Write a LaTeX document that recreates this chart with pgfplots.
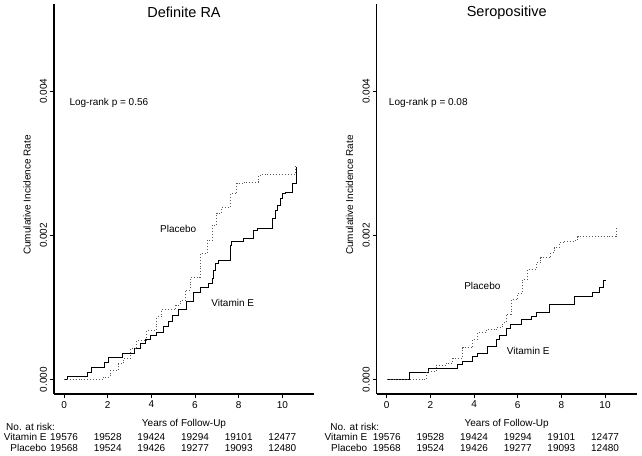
\documentclass[border=0pt]{standalone}
\usepackage{fontspec}
\setmainfont{Liberation Sans}
\usepackage{pgfplots}
\pgfplotsset{compat=1.18}

\pgfplotsset{
  km/.style={
    scale only axis, width=260pt, height=390pt,
    xmin=-0.46, xmax=11.45, ymin=-0.0002, ymax=0.00521,
    axis lines=left, axis line style={-, line width=1.1pt, black},
    tick align=outside, major tick length=3.5pt,
    tick style={black, line width=0.8pt},
    xtick={0,2,4,6,8,10}, ytick={0,0.002,0.004},
    scaled y ticks=false,
    /pgf/number format/assume math mode=true,
    tick label style={font=\fontsize{10}{12}\selectfont},
    yticklabel style={/pgf/number format/.cd, fixed, fixed zerofill, precision=3, /tikz/.cd, rotate=90, anchor=south},
    label style={font=\fontsize{10}{12}\selectfont},
    ylabel={Cumulative Incidence Rate},
    ylabel style={at={(axis description cs:-0.104,0.51)}, anchor=center},
    xlabel={Years of Follow-Up},
    xlabel style={at={(axis description cs:0.5,0)}, anchor=center, yshift=-29.5pt},
    title style={font=\fontsize{14.5}{17}\selectfont, at={(axis description cs:0.5,1)}, anchor=center, yshift=-14.5pt},
    clip=false,
    every node/.append style={font=\fontsize{10}{12}\selectfont},
  },
  vite/.style={const plot, black, line width=1pt},
  plac/.style={const plot, black!65, line width=0.9pt, dotted},
}

\begin{document}
\begin{tikzpicture}
\path[use as bounding box] (0,0) rectangle (642pt,455pt);

% ---------- Definite RA ----------
\begin{axis}[km, at={(54pt,61pt)}, anchor=south west, title={Definite RA}]
\addplot[vite] coordinates {
(0,0) (0.18,0.00004) (1.07,0.00010) (1.28,0.00017) (1.85,0.00024) (2.02,0.00030)
(2.69,0.00036) (3.21,0.00043) (3.49,0.00050) (3.72,0.00056) (3.94,0.00061)
(4.22,0.00066) (4.54,0.00073) (4.77,0.00081) (4.95,0.00089) (5.23,0.00097)
(5.60,0.00109) (5.92,0.00121) (6.24,0.00128) (6.61,0.00133) (6.78,0.00140)
(6.83,0.00151) (6.93,0.00161) (7.06,0.00165) (7.61,0.00186) (7.69,0.00191)
(8.21,0.00196) (8.67,0.00207) (8.84,0.00210) (9.53,0.00224) (9.68,0.00235)
(9.76,0.00242) (9.91,0.00251) (9.99,0.00258) (10.14,0.00260) (10.45,0.00272)
(10.67,0.00295)
};
\addplot[plac] coordinates {
(0,0) (1.80,0.00003) (2.11,0.00012) (2.48,0.00022) (2.71,0.00029) (3.03,0.00043)
(3.33,0.00054) (3.79,0.00068) (4.25,0.00087) (4.48,0.00097) (5.12,0.00103)
(5.32,0.00110) (5.55,0.00124) (5.78,0.00142) (6.24,0.00175) (6.55,0.00193)
(6.78,0.00214) (7.00,0.00231) (7.23,0.00239) (7.61,0.00258) (7.92,0.00272)
(8.21,0.00274) (8.90,0.00283) (9.07,0.00285) (10.60,0.00297)
};
\node[anchor=west] at (axis cs:0.09,0.003835) {Log-rank p = 0.56};
\node at (axis cs:5.23,0.002087) {Placebo};
\node at (axis cs:7.73,0.001061) {Vitamin E};
\node[anchor=west] at (axis cs:-2.81,-0.000655) {No. at risk:};
\node[anchor=east] at (axis cs:-0.64,-0.000802) {Vitamin E};
\node[anchor=east] at (axis cs:-0.64,-0.000946) {Placebo};
\node at (axis cs:0,-0.000802) {19576};
\node at (axis cs:2,-0.000802) {19528};
\node at (axis cs:4,-0.000802) {19424};
\node at (axis cs:6,-0.000802) {19294};
\node at (axis cs:8,-0.000802) {19101};
\node at (axis cs:10,-0.000802) {12477};
\node at (axis cs:0,-0.000946) {19568};
\node at (axis cs:2,-0.000946) {19524};
\node at (axis cs:4,-0.000946) {19426};
\node at (axis cs:6,-0.000946) {19277};
\node at (axis cs:8,-0.000946) {19093};
\node at (axis cs:10,-0.000946) {12480};
\end{axis}

% ---------- Seropositive ----------
\begin{axis}[km, at={(376.7pt,61pt)}, anchor=south west, title={Seropositive}]
\addplot[vite] coordinates {
(0,0) (1.05,0.00010) (1.89,0.00016) (3.26,0.00021) (3.48,0.00025) (3.94,0.00032)
(4.17,0.00036) (4.63,0.00046) (5.01,0.00055) (5.16,0.00061) (5.47,0.00071)
(5.69,0.00077) (6.15,0.00083) (6.61,0.00088) (6.84,0.00093) (7.44,0.00104)
(8.58,0.00115) (9.42,0.00121) (9.73,0.00128) (9.95,0.00137) (10.03,0.00137)
};
\addplot[plac] coordinates {
(0,0) (1.81,0.000115) (2.27,0.00020) (2.73,0.00023) (3.03,0.00030) (3.48,0.00044)
(3.94,0.00056) (4.17,0.00065) (4.55,0.00069) (5.01,0.00072) (5.31,0.00079)
(5.47,0.00090) (5.69,0.00111) (6.00,0.00120) (6.22,0.00139) (6.45,0.00153)
(6.84,0.00162) (7.06,0.00169) (7.52,0.00176) (7.67,0.00183) (7.90,0.00190)
(8.13,0.00192) (8.66,0.00195) (8.74,0.00198) (10.49,0.00198) (10.52,0.00210)
};
\node[anchor=west] at (axis cs:-0.06,0.003835) {Log-rank p = 0.08};
\node at (axis cs:4.38,0.001297) {Placebo};
\node at (axis cs:6.48,0.000399) {Vitamin E};
\node[anchor=west] at (axis cs:-2.74,-0.000655) {No. at risk:};
\node[anchor=east] at (axis cs:-0.73,-0.000802) {Vitamin E};
\node[anchor=east] at (axis cs:-0.73,-0.000946) {Placebo};
\node at (axis cs:0,-0.000802) {19576};
\node at (axis cs:2,-0.000802) {19528};
\node at (axis cs:4,-0.000802) {19424};
\node at (axis cs:6,-0.000802) {19294};
\node at (axis cs:8,-0.000802) {19101};
\node at (axis cs:10,-0.000802) {12477};
\node at (axis cs:0,-0.000946) {19568};
\node at (axis cs:2,-0.000946) {19524};
\node at (axis cs:4,-0.000946) {19426};
\node at (axis cs:6,-0.000946) {19277};
\node at (axis cs:8,-0.000946) {19093};
\node at (axis cs:10,-0.000946) {12480};
\end{axis}
\end{tikzpicture}
\end{document}
